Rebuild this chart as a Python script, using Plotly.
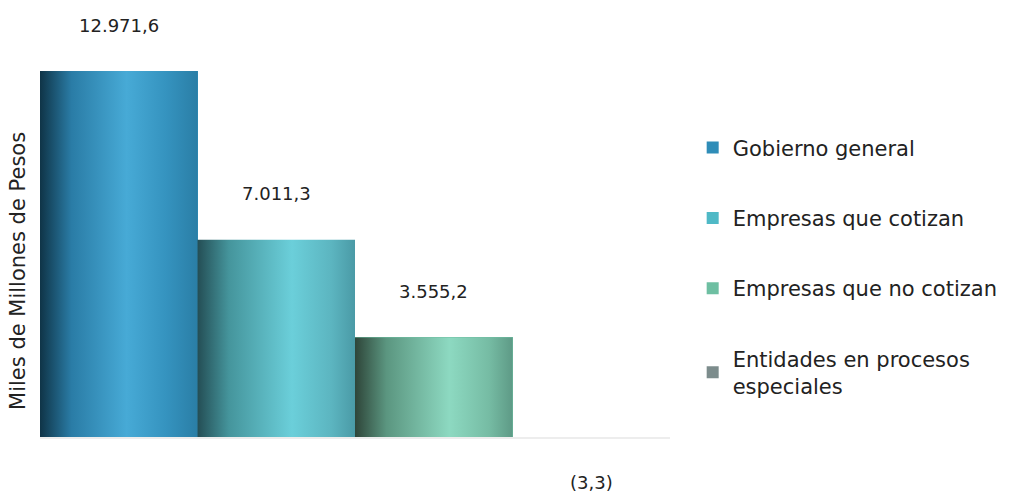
import plotly.graph_objects as go

categories = ["Gobierno general", "Empresas que cotizan", "Empresas que no cotizan",
              "Entidades en procesos<br>especiales"]
values = [12971.6, 7011.3, 3555.2, -3.3]
value_labels = ["12.971,6", "7.011,3", "3.555,2", "(3,3)"]
axis_title = "Miles de Millones de Pesos"

legend_colors = ["#2F8DB8", "#4FB9C6", "#6EBFA2", "#7C8C8C"]
gradients = [
    [[0, "#0F3447"], [0.2, "#2A7CA6"], [0.55, "#47AAD6"], [0.8, "#3593BF"], [1, "#2A7EA6"]],
    [[0, "#244E55"], [0.2, "#45959C"], [0.6, "#6BCFDA"], [0.85, "#5CB5C0"], [1, "#4A9AA6"]],
    [[0, "#2E4539"], [0.2, "#5B9680"], [0.6, "#8DD9C1"], [0.85, "#76BCA4"], [1, "#5E9A86"]],
    None,
]

FONT = "DejaVu Sans"
xs = list(range(len(categories)))
fig = go.Figure()

for i, (cat, val) in enumerate(zip(categories, values)):
    fig.add_trace(go.Bar(
        x=[xs[i]], y=[val], name=cat, width=1,
        marker=dict(color=legend_colors[i], line=dict(width=0)),
        legendgroup=f"g{i}", showlegend=True, hoverinfo="skip",
    ))

# gradient overlay for each bar, built from the same data
for i, val in enumerate(values):
    if gradients[i] is None:
        continue
    x0, x1 = xs[i] - 0.5, xs[i] + 0.5
    fig.add_trace(go.Scatter(
        x=[x0, x1, x1, x0, x0], y=[0, 0, val, val, 0],
        mode="lines", line=dict(width=0), fill="toself",
        fillgradient=dict(type="horizontal", colorscale=gradients[i]),
        showlegend=False, hoverinfo="skip", legendgroup=f"g{i}",
    ))

for i, (val, lab) in enumerate(zip(values, value_labels)):
    fig.add_annotation(
        x=xs[i], y=val, text=lab, showarrow=False,
        yshift=46 if val >= 0 else -44, yanchor="middle",
        font=dict(size=18, color="#222222", family=FONT),
    )

fig.add_annotation(
    xref="paper", yref="paper", x=-0.035, y=0.423, text=axis_title,
    textangle=-90, showarrow=False, xanchor="center", yanchor="middle",
    font=dict(size=21, color="#222222", family=FONT),
)

# light baseline drawn above the bars
fig.add_shape(type="line", xref="paper", yref="y", x0=0, x1=1, y0=0, y1=0,
              line=dict(color="#EDEDED", width=2), layer="above")

fig.update_layout(
    width=1011, height=495,
    margin=dict(l=40, r=341, t=20, b=40, autoexpand=False),
    paper_bgcolor="white", plot_bgcolor="white",
    bargap=0, barmode="overlay",
    font=dict(family=FONT, size=21, color="#222222"),
    showlegend=True,
    legend=dict(
        x=1.036, y=0.753, xanchor="left", yanchor="top",
        traceorder="grouped", tracegroupgap=40,
        font=dict(size=21, color="#222222", family=FONT),
        itemwidth=30,
    ),
    xaxis=dict(range=[-0.5, 3.5], showticklabels=False, showgrid=False,
               zeroline=False, showline=False, ticks=""),
    yaxis=dict(range=[-601, 14776], showticklabels=False, showgrid=False,
               zeroline=False, showline=False, ticks=""),
)

fig.write_html("out.html", config={"displayModeBar": False},
               post_script="document.body.style.margin='0';")
